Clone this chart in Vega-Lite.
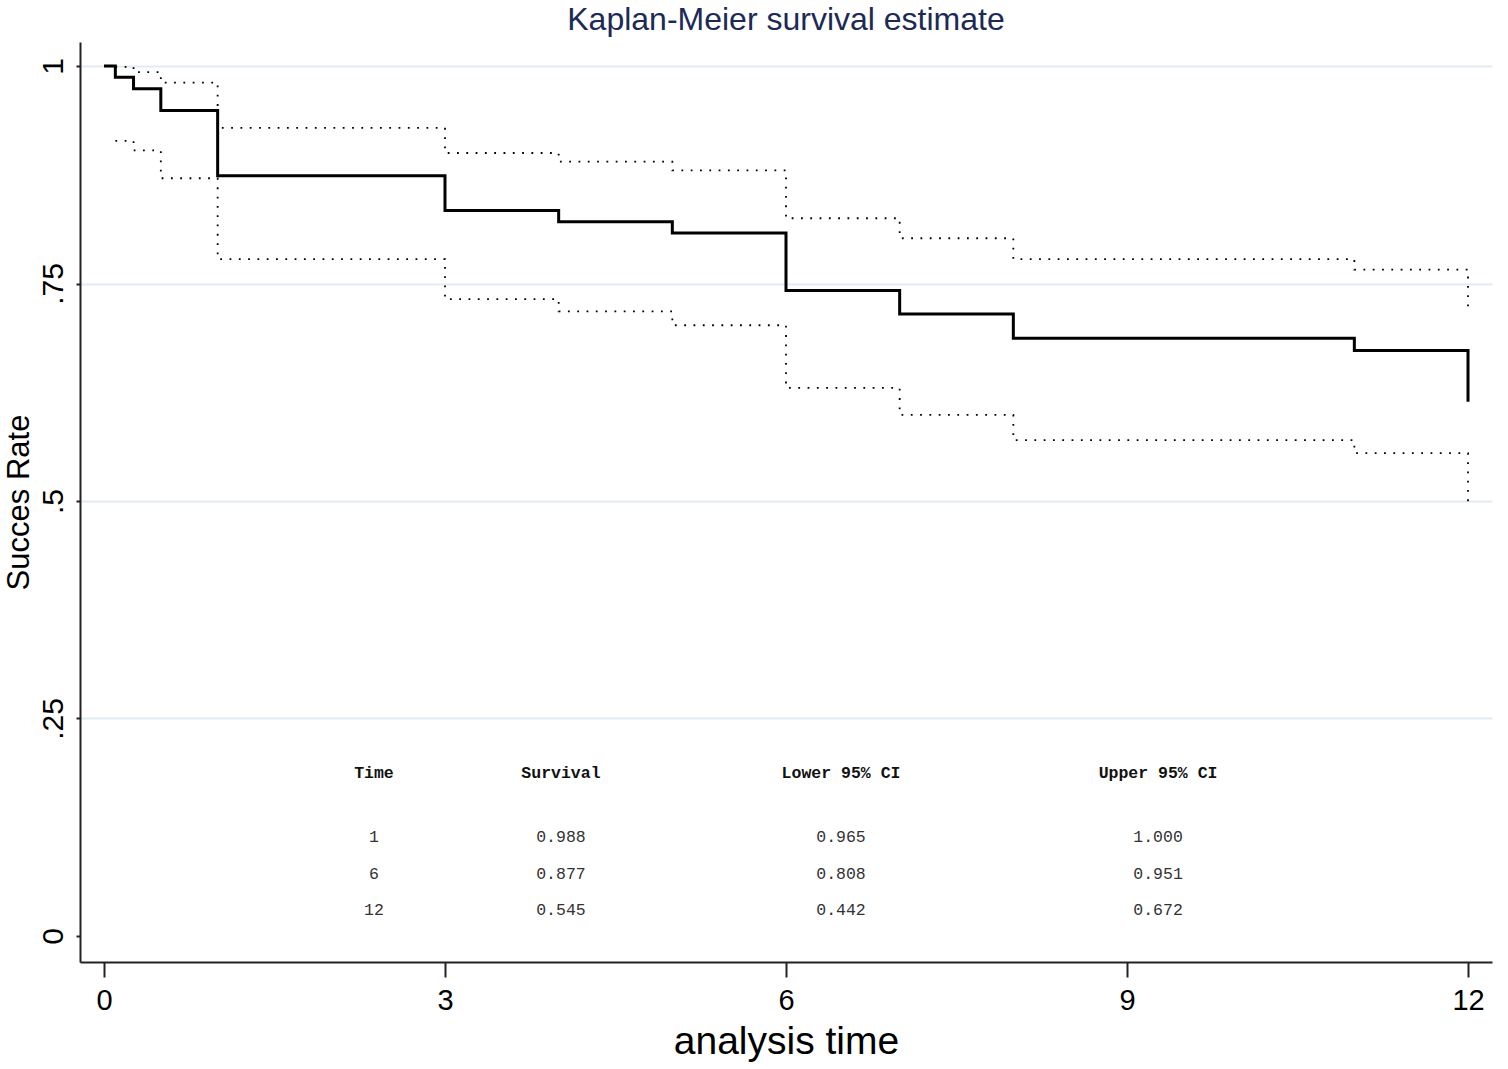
{
  "$schema": "https://vega.github.io/schema/vega-lite/v6.json",
  "width": 1412,
  "height": 920,
  "autosize": {"type": "none"},
  "padding": {"left": 80, "top": 42, "right": 16, "bottom": 107},
  "background": "white",
  "title": {"text": "Kaplan-Meier survival estimate", "font": "Liberation Sans", "fontSize": 32, "fontWeight": "normal", "color": "#1c2a55", "anchor": "middle", "frame": "group", "offset": 5},
  "config": {"view": {"stroke": null}},
  "datasets": {
    "km": [
      {"t": 0, "surv": 1.0, "lo": null, "hi": null},
      {"t": 0.1, "surv": 0.987, "lo": 0.914, "hi": 0.999},
      {"t": 0.26, "surv": 0.974, "lo": 0.903, "hi": 0.993},
      {"t": 0.5, "surv": 0.949, "lo": 0.871, "hi": 0.981},
      {"t": 1, "surv": 0.874, "lo": 0.778, "hi": 0.929},
      {"t": 3, "surv": 0.834, "lo": 0.732, "hi": 0.9},
      {"t": 4, "surv": 0.821, "lo": 0.718, "hi": 0.89},
      {"t": 5, "surv": 0.808, "lo": 0.702, "hi": 0.88},
      {"t": 6, "surv": 0.742, "lo": 0.63, "hi": 0.825},
      {"t": 7, "surv": 0.715, "lo": 0.599, "hi": 0.802},
      {"t": 8, "surv": 0.687, "lo": 0.57, "hi": 0.778},
      {"t": 11, "surv": 0.673, "lo": 0.555, "hi": 0.766},
      {"t": 12, "surv": 0.614, "lo": 0.494, "hi": 0.716}
    ],
    "table": [
      {"x": 2.375, "y": 0.1874, "label": "Time", "kind": "header"},
      {"x": 4.02, "y": 0.1874, "label": "Survival", "kind": "header"},
      {"x": 6.484, "y": 0.1874, "label": "Lower 95% CI", "kind": "header"},
      {"x": 9.273, "y": 0.1874, "label": "Upper 95% CI", "kind": "header"},
      {"x": 2.375, "y": 0.1138, "label": "1", "kind": "value"},
      {"x": 4.02, "y": 0.1138, "label": "0.988", "kind": "value"},
      {"x": 6.484, "y": 0.1138, "label": "0.965", "kind": "value"},
      {"x": 9.273, "y": 0.1138, "label": "1.000", "kind": "value"},
      {"x": 2.375, "y": 0.0713, "label": "6", "kind": "value"},
      {"x": 4.02, "y": 0.0713, "label": "0.877", "kind": "value"},
      {"x": 6.484, "y": 0.0713, "label": "0.808", "kind": "value"},
      {"x": 9.273, "y": 0.0713, "label": "0.951", "kind": "value"},
      {"x": 2.375, "y": 0.0299, "label": "12", "kind": "value"},
      {"x": 4.02, "y": 0.0299, "label": "0.545", "kind": "value"},
      {"x": 6.484, "y": 0.0299, "label": "0.442", "kind": "value"},
      {"x": 9.273, "y": 0.0299, "label": "0.672", "kind": "value"}
    ]
  },
  "layer": [
    {
      "data": {"name": "km"},
      "mark": {"type": "line", "interpolate": "step-after", "color": "#000000", "strokeWidth": 3},
      "encoding": {
        "x": {"field": "t", "type": "quantitative", "title": "analysis time",
          "scale": {"domain": [-0.211, 12.211], "nice": false, "zero": false},
          "axis": {"values": [0, 3, 6, 9, 12], "format": "d", "grid": false, "tickSize": 15, "tickWidth": 2, "tickColor": "#222222", "domainColor": "#222222", "domainWidth": 2,
            "labelFont": "Liberation Sans", "labelFontSize": 29, "labelColor": "#000000", "labelPadding": 9,
            "titleFont": "Liberation Sans", "titleFontSize": 39, "titleFontWeight": "normal", "titleColor": "#000000", "titlePadding": 7}},
        "y": {"field": "surv", "type": "quantitative", "title": "Succes Rate",
          "scale": {"domain": [-0.0299, 1.0276], "nice": false, "zero": false},
          "axis": {"values": [0, 0.25, 0.5, 0.75, 1],
            "labelExpr": "datum.value == 0 ? '0' : datum.value == 1 ? '1' : replace(format(datum.value, '.2~f'), '0.', '.')",
            "labelAngle": 270, "labelAlign": "center", "labelBaseline": "alphabetic", "labelPadding": 14,
            "labelFont": "Liberation Sans", "labelFontSize": 30, "labelColor": "#000000",
            "tickSize": 4, "tickWidth": 2, "tickColor": "#222222", "domainColor": "#222222", "domainWidth": 2,
            "grid": true, "gridColor": "#e2ebf1", "gridWidth": 2,
            "gridOpacity": {"condition": {"test": "datum.value == 0", "value": 0}, "value": 1},
            "titleFont": "Liberation Sans", "titleFontSize": 31, "titleFontWeight": "normal", "titleColor": "#000000", "titlePadding": 3}}
      }
    },
    {
      "data": {"name": "km"},
      "mark": {"type": "line", "interpolate": "step-after", "color": "#000000", "strokeWidth": 1.8, "strokeDash": [1.8, 7.5]},
      "encoding": {
        "x": {"field": "t", "type": "quantitative", "title": "analysis time"},
        "y": {"field": "lo", "type": "quantitative", "title": "Succes Rate"}
      }
    },
    {
      "data": {"name": "km"},
      "mark": {"type": "line", "interpolate": "step-after", "color": "#000000", "strokeWidth": 1.8, "strokeDash": [1.8, 7.5]},
      "encoding": {
        "x": {"field": "t", "type": "quantitative", "title": "analysis time"},
        "y": {"field": "hi", "type": "quantitative", "title": "Succes Rate"}
      }
    },
    {
      "data": {"name": "table"},
      "transform": [{"filter": "datum.kind == 'header'"}],
      "mark": {"type": "text", "font": "Liberation Mono", "fontSize": 16.5, "fontWeight": "bold", "color": "#111111", "align": "center", "baseline": "middle"},
      "encoding": {
        "x": {"field": "x", "type": "quantitative", "title": "analysis time"},
        "y": {"field": "y", "type": "quantitative", "title": "Succes Rate"},
        "text": {"field": "label", "type": "nominal"}
      }
    },
    {
      "data": {"name": "table"},
      "transform": [{"filter": "datum.kind == 'value'"}],
      "mark": {"type": "text", "font": "Liberation Mono", "fontSize": 16.5, "fontWeight": "normal", "color": "#333333", "align": "center", "baseline": "middle"},
      "encoding": {
        "x": {"field": "x", "type": "quantitative", "title": "analysis time"},
        "y": {"field": "y", "type": "quantitative", "title": "Succes Rate"},
        "text": {"field": "label", "type": "nominal"}
      }
    }
  ]
}
